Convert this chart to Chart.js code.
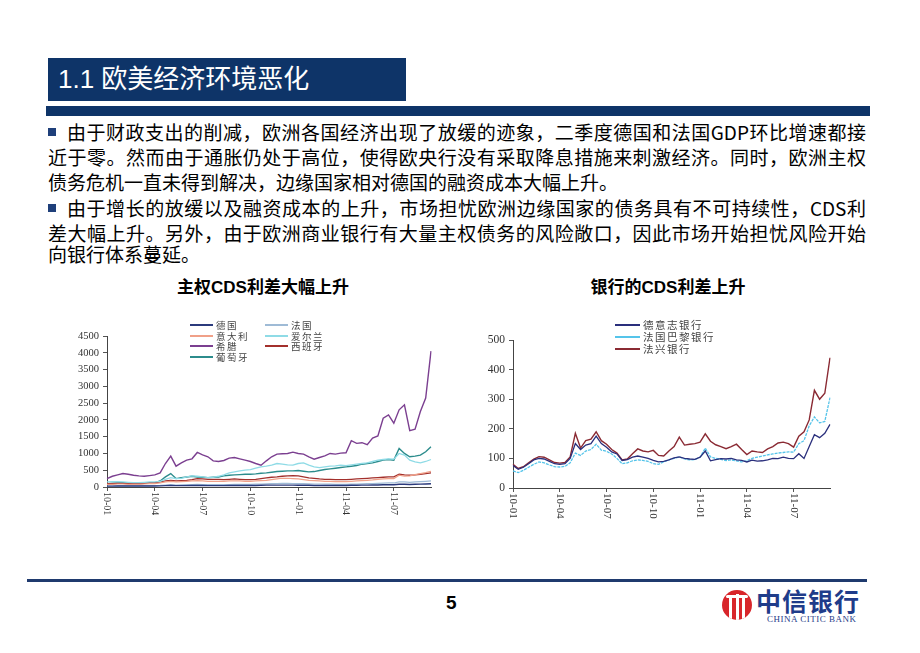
<!DOCTYPE html>
<html><head><meta charset="utf-8">
<script src="https://cdn.jsdelivr.net/npm/chart.js@4.4.1/dist/chart.umd.min.js"></script>
<style>
html,body{margin:0;padding:0;background:#fff;}
body{width:920px;height:653px;position:relative;overflow:hidden;font-family:"Noto Sans CJK SC",sans-serif;}
.abs{position:absolute;}
#titlebox{left:48px;top:58px;width:358px;height:43px;background:#0e3468;}
#titletxt{left:58px;top:62px;color:#fff;font-size:26px;line-height:34px;font-family:"Liberation Sans","Noto Sans CJK SC",sans-serif;white-space:nowrap;}
#bar{left:46px;top:106px;width:824px;height:10px;background:#0e3468;}
.ln{font-size:19px;line-height:22px;color:#000;white-space:nowrap;font-family:"Noto Sans CJK SC",sans-serif;}
.j{text-align:justify;text-align-last:justify;}
.bul{width:8px;height:8px;background:#1f3f7a;}
.ctitle{font-size:17px;font-weight:bold;color:#000;font-family:"Liberation Sans","Noto Sans CJK SC",sans-serif;white-space:nowrap;transform:translateX(-50%);}
.lg{font-size:9.5px;line-height:10px;color:#444;letter-spacing:1.5px;white-space:nowrap;}
.lgl{height:2px;}
#foot{left:27px;top:579px;width:840px;height:3px;background:#1f3a6e;}
#pg{left:446px;top:592px;font-size:19px;font-weight:bold;font-family:"Liberation Sans",sans-serif;}
</style></head>
<body>
<div class="abs" id="titlebox"></div>
<div class="abs" id="titletxt">1.1 欧美经济环境恶化</div>
<div class="abs" id="bar"></div>

<div class="abs bul" style="left:48px;top:128px"></div>
<div class="abs ln j" style="left:67px;top:121px;width:799px">由于财政支出的削减，欧洲各国经济出现了放缓的迹象，二季度德国和法国GDP环比增速都接</div>
<div class="abs ln j" style="left:48px;top:146px;width:818px">近于零。然而由于通胀仍处于高位，使得欧央行没有采取降息措施来刺激经济。同时，欧洲主权</div>
<div class="abs ln" style="left:48px;top:171px">债务危机一直未得到解决，边缘国家相对德国的融资成本大幅上升。</div>
<div class="abs bul" style="left:48px;top:204px"></div>
<div class="abs ln j" style="left:67px;top:197px;width:799px">由于增长的放缓以及融资成本的上升，市场担忧欧洲边缘国家的债务具有不可持续性，CDS利</div>
<div class="abs ln j" style="left:48px;top:222px;width:818px">差大幅上升。另外，由于欧洲商业银行有大量主权债务的风险敞口，因此市场开始担忧风险开始</div>
<div class="abs ln" style="left:48px;top:243px">向银行体系蔓延。</div>

<div class="abs ctitle" style="left:263px;top:273px">主权CDS利差大幅上升</div>
<div class="abs ctitle" style="left:668px;top:273px">银行的CDS利差上升</div>

<canvas id="c1" class="abs" style="left:55px;top:318px" width="384" height="215"></canvas>
<canvas id="c2" class="abs" style="left:465px;top:322px" width="372" height="212"></canvas>

<div class="abs" id="foot"></div>
<div class="abs" id="pg">5</div>
<div class="abs" style="left:722px;top:590px;width:30px;height:30px;border-radius:50%;background:#d8262b;overflow:hidden">
  <div class="abs" style="left:7px;top:8px;width:3px;height:22px;background:#fff"></div>
  <div class="abs" style="left:13.5px;top:4px;width:3px;height:26px;background:#fff"></div>
  <div class="abs" style="left:20px;top:8px;width:3px;height:22px;background:#fff"></div>
  <div class="abs" style="left:4px;top:5px;width:22px;height:3px;background:#fff;border-radius:3px"></div>
</div>
<div class="abs" style="left:756px;top:585px;font-size:25px;line-height:30px;font-weight:bold;color:#1f3c8a;letter-spacing:1px;white-space:nowrap">中信银行</div>
<div class="abs" style="left:767px;top:614px;font-size:9px;color:#1f3c8a;font-family:'Liberation Serif',serif;letter-spacing:0.5px;white-space:nowrap">CHINA CITIC BANK</div>

<script>
// ---------- data ----------
const dates = ['2010-01-01','2010-01-11','2010-01-21','2010-02-01','2010-02-11','2010-02-21','2010-03-01','2010-03-11','2010-03-21',
'2010-04-01','2010-04-11','2010-04-21','2010-05-01','2010-05-11','2010-05-21','2010-06-01','2010-06-11','2010-06-21',
'2010-07-01','2010-07-11','2010-07-21','2010-08-01','2010-08-11','2010-08-21','2010-09-01','2010-09-11','2010-09-21',
'2010-10-01','2010-10-11','2010-10-21','2010-11-01','2010-11-11','2010-11-21','2010-12-01','2010-12-11','2010-12-21',
'2011-01-01','2011-01-11','2011-01-21','2011-02-01','2011-02-11','2011-02-21','2011-03-01','2011-03-11','2011-03-21',
'2011-04-01','2011-04-11','2011-04-21','2011-05-01','2011-05-11','2011-05-21','2011-06-01','2011-06-11','2011-06-21',
'2011-07-01','2011-07-11','2011-07-21','2011-08-01','2011-08-11','2011-08-21','2011-09-01','2011-09-11'];
const tickDates  = ['2010-01-01','2010-04-01','2010-07-01','2010-10-01','2011-01-01','2011-04-01','2011-07-01'];
const tickLabels = ['10-01','10-04','10-07','10-10','11-01','11-04','11-07'];

// sovereign CDS (bp)
const germany  = [25,25,30,30,30,30,30,30,30,30, 35,40,45,40,40,40,45,45,45,40, 40,40,40,45,45,45,45,45,45,50, 55,55,55,55,55,55,50,50,50,45, 45,45,45,45,45,45,50,50,55,55, 60,60,65,65,65,80,80,75,80,85, 90,95];
const france   = [30,30,35,35,35,35,35,40,40,45, 50,60,70,60,65,70,75,80,75,70, 70,70,70,75,80,80,80,80,85,90, 95,100,105,110,110,105,100,100,95,90, 90,85,85,80,80,80,85,90,95,100, 105,110,115,120,120,150,150,140,150,160, 170,180];
const italy    = [80,80,90,90,80,80,80,90,100,100, 120,150,170,150,160,170,180,190,180,170, 170,170,170,180,180,180,170,170,180,190, 200,220,240,260,260,250,240,220,200,190, 180,170,170,160,160,160,170,180,190,200, 210,230,240,250,250,350,320,330,370,400, 430,470];
const ireland  = [150,160,160,150,140,130,130,140,150,150, 170,230,280,250,260,300,330,320,300,280, 290,320,360,420,450,480,500,520,560,600, 620,650,700,680,660,650,700,720,650,600, 580,600,620,630,650,640,660,680,700,720, 760,800,820,840,830,1000,950,800,750,720, 760,820];
const greece   = [250,320,360,400,380,350,330,320,340,360, 420,700,920,620,720,800,840,1030,960,900, 780,760,790,860,880,840,800,760,700,650, 780,900,980,990,1000,1040,1000,980,900,830, 880,930,1000,980,1010,1020,1380,1300,1320,1260, 1460,1520,2050,2150,1900,2300,2450,1680,1720,2250, 2650,4050];
const spain    = [100,100,110,110,100,100,100,110,120,120, 150,180,200,180,190,200,220,250,240,230, 230,230,220,230,240,230,220,220,230,250, 270,290,300,320,330,340,330,300,270,260, 240,230,230,220,220,220,230,240,250,260, 270,280,290,300,300,380,360,350,360,380, 400,420];
const portugal = [100,110,120,130,120,110,100,110,120,130, 180,300,400,250,280,300,320,300,290,280, 290,300,330,350,360,370,380,380,390,410, 420,440,460,470,480,480,490,470,450,460, 490,520,540,560,580,600,620,640,680,700, 720,760,800,820,800,1150,1000,900,920,950, 1050,1200];

// bank CDS (bp)
const deutsche = [76,63,70,82,95,100,98,90,82,80, 82,100,150,130,145,150,175,150,138,122, 115,93,96,104,108,104,100,93,88,90, 95,102,105,100,98,97,104,125,92,96, 99,98,100,95,93,88,94,91,92,95, 100,99,104,100,99,116,100,140,180,170, 185,215];
const bnp      = [58,52,60,70,80,88,85,78,72,71, 73,85,118,110,125,130,148,128,124,115, 100,82,85,92,95,93,90,82,80,88, 95,100,105,98,95,96,104,135,105,100, 97,93,95,92,88,92,100,104,108,112, 115,118,120,122,121,150,160,210,240,220, 225,305];
const socgen   = [80,66,72,85,98,106,104,95,86,84, 86,105,185,135,160,165,190,160,148,130, 118,95,98,116,132,125,122,127,110,108, 125,140,172,145,148,150,155,183,158,146, 140,133,140,148,130,113,125,122,120,132, 140,152,155,150,138,175,190,230,330,300, 320,440];

// ---------- charts ----------
const rotLabels = {
  id:'rotLabels',
  afterDraw(chart, args, opts){
    const s = chart.scales.x, ctx = chart.ctx;
    ctx.save();
    ctx.font = opts.font; ctx.fillStyle = opts.color;
    s.ticks.forEach(t=>{
      const lbl = tickLabels[tickDates.indexOf(chart.data.labels[t.value])];
      if(!lbl) return;
      const x = s.getPixelForValue(t.value);
      ctx.save(); ctx.translate(x, s.top + opts.pad); ctx.rotate(Math.PI/2);
      ctx.textAlign='left'; ctx.textBaseline='middle';
      ctx.fillText(lbl, 0, 0);
      ctx.restore();
    });
    ctx.restore();
  }
};

function ds(label, data, color, w, dash){
  return {label, data, borderColor:color, backgroundColor:color, borderWidth:w||1.2, pointRadius:0, tension:0, borderDash:dash||[]};
}

function makeChart(id, datasets, max, step, yW, xH, pad, tickFont, labFont){
  return new Chart(document.getElementById(id), {
    type:'line',
    data:{labels:dates, datasets},
    plugins:[rotLabels],
    options:{
      responsive:false, animation:false, devicePixelRatio:1,
      layout:{padding:pad},
      plugins:{legend:{display:false}, tooltip:{enabled:false},
        rotLabels:{font:labFont, color:'#333', pad:5}},
      scales:{
        x:{
          afterBuildTicks(s){ s.ticks = s.ticks.filter(t=>tickDates.includes(dates[t.value])); },
          afterFit(s){ s.height = xH; },
          ticks:{display:false, autoSkip:false},
          grid:{display:true, drawOnChartArea:false, drawTicks:true, tickLength:4, color:'#555'},
          border:{display:true, color:'#444', width:1}
        },
        y:{
          min:0, max:max,
          afterFit(s){ s.width = yW; },
          ticks:{stepSize:step, color:'#333', font:tickFont, padding:4, callback:v=>String(v)},
          grid:{display:true, drawOnChartArea:false, tickLength:4, color:'#555'},
          border:{display:true, color:'#444', width:1}
        }
      }
    }
  });
}

const c1 = makeChart('c1', [
  ds('德国', germany, '#2b3a7c', 1.4),
  ds('法国', france, '#9fbbd6', 1.2),
  ds('意大利', italy, '#f0a088', 1.2),
  ds('爱尔兰', ireland, '#8fdbe6', 1.3),
  ds('希腊', greece, '#7b3f90', 1.4),
  ds('西班牙', spain, '#a3302c', 1.3),
  ds('葡萄牙', portugal, '#2c8c8c', 1.4)
], 4500, 500, 52, 46, {top:18,right:8,left:0,bottom:0},
  {family:'Liberation Serif', size:10.5}, '10px "Liberation Serif"');

const c2 = makeChart('c2', [
  ds('德意志银行', deutsche, '#2a2f7c', 1.3),
  ds('法国巴黎银行', bnp, '#55c4ea', 1.3, [3,1]),
  ds('法兴银行', socgen, '#8a2a33', 1.4)
], 500, 50, 48, 46, {top:18,right:7,left:0,bottom:0},
  {family:'Liberation Serif', size:11.5}, '11px "Liberation Serif"');

// HTML legends, built from the chart datasets
function legend(items, pos){
  items.forEach((it,i)=>{
    const p = pos[i];
    const l = document.createElement('div');
    l.className='abs lgl'; l.style.cssText=`left:${p[0]}px;top:${p[1]-1}px;width:${p[2]}px;background:${it.c};`;
    const t = document.createElement('div');
    t.className='abs lg'; t.style.cssText=`left:${p[0]+p[2]+3}px;top:${p[1]-5}px;font-size:${p[3]}px`;
    t.textContent = it.n;
    document.body.appendChild(l); document.body.appendChild(t);
  });
}
legend(c1.data.datasets.map(d=>({n:d.label,c:d.borderColor})),
  [[190,325,23,9.5],[265,325,23,9.5],[190,336,23,9.5],[265,336,23,9.5],[190,346,23,9.5],[265,346,23,9.5],[190,357,23,9.5]]);
legend(c2.data.datasets.map(d=>({n:d.label,c:d.borderColor})),
  [[615,325,25,10.5],[615,337,25,10.5],[615,349,25,10.5]]);
</script>
</body></html>
